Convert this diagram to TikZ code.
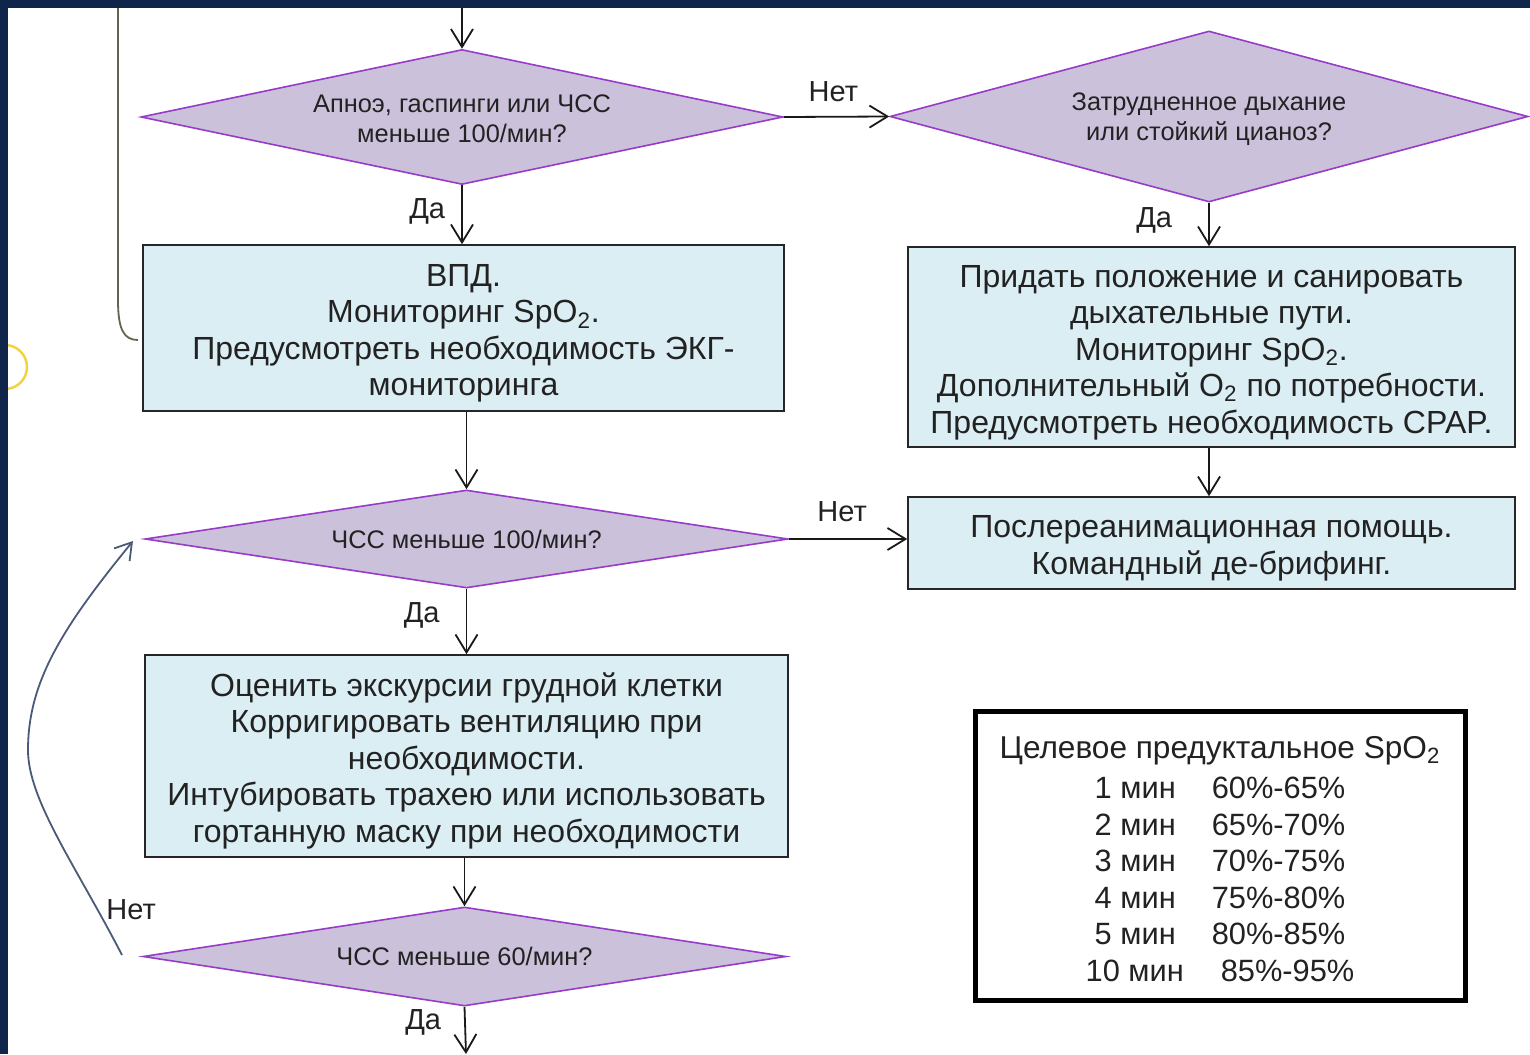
\documentclass[tikz,border=0pt]{standalone}
\usepackage{fontspec}
\setmainfont{Liberation Sans}
\usetikzlibrary{shapes.geometric,arrows.meta}
\definecolor{navy}{RGB}{16,37,74}
\definecolor{boxfill}{RGB}{219,238,244}
\definecolor{diafill}{RGB}{204,193,219}
\definecolor{diaedge}{RGB}{150,60,200}
\definecolor{txt}{RGB}{34,34,34}
\definecolor{loopc}{RGB}{74,90,120}
\definecolor{bracec}{RGB}{100,100,80}
\definecolor{ringc}{RGB}{240,210,60}
\newcommand\boxstrut{\rule{0pt}{16.5pt}}
\begin{document}
\begin{tikzpicture}[x=0.5pt,y=-0.5pt,
  dia/.style={diamond, draw=diaedge, fill=diafill, line width=0.8pt, inner sep=0pt, text=txt, align=center, font=\fontsize{12.7}{15}\selectfont},
  act/.style={rectangle, draw=black!85, fill=boxfill, line width=0.8pt, inner sep=0pt, text=txt, align=center, font=\fontsize{16}{18.25}\selectfont},
  flow/.style={draw=black!90, line width=0.9pt, -{Straight Barb[length=9pt,width=11pt,line width=0.9pt]}},
  lbl/.style={inner sep=0pt, text=txt, font=\fontsize{14.5}{16}\selectfont},
  tbl/.style={rectangle, draw=black, line width=2.5pt, fill=white, inner sep=0pt, text=txt, align=center, font=\fontsize{15.4}{18.25}\selectfont},
]
\useasboundingbox (0,0) rectangle (1530,1054);
\fill[white] (0,0) rectangle (1530,1054);

% partial ring at the left edge
\draw[ringc, line width=1.2pt] (5,367) circle[radius=22];
% bracket line at the upper left
\draw[bracec, line width=0.9pt] (118,0) -- (118,300) .. controls (118,330) and (124,340) .. (138,340);

% nodes
\node[dia, minimum width=321pt, minimum height=67.5pt, aspect=4.76] (d1) at (462,117)
  {\rule{0pt}{10.5pt}Апноэ, гаспинги или ЧСС\\меньше 100/мин?};
\node[dia, minimum width=319pt, minimum height=85.5pt, aspect=3.73] (d2) at (1209,116.5)
  {\rule{0pt}{12pt}Затрудненное дыхание\\или стойкий цианоз?};
\node[act, minimum width=320.5pt, minimum height=83pt] (b1) at (463.5,328)
  {\boxstrut ВПД.\\Мониторинг SpO\textsubscript{2}.\\Предусмотреть необходимость ЭКГ-\\мониторинга};
\node[act, minimum width=303.5pt, minimum height=100pt] (b2) at (1211.5,347)
  {\boxstrut Придать положение и санировать\\дыхательные пути.\\Мониторинг SpO\textsubscript{2}.\\Дополнительный O\textsubscript{2} по потребности.\\Предусмотреть необходимость CPAP.};
\node[act, minimum width=303.5pt, minimum height=46pt] (b3) at (1211.5,543)
  {\boxstrut Послереанимационная помощь.\\Командный де-брифинг.};
\node[dia, minimum width=321.5pt, minimum height=49pt, aspect=6.56] (d3) at (466.5,539)
  {ЧСС меньше 100/мин?};
\node[act, minimum width=321.5pt, minimum height=101pt] (b4) at (466.5,756)
  {\boxstrut Оценить экскурсии грудной клетки\\Корригировать вентиляцию при\\необходимости.\\Интубировать трахею или использовать\\гортанную маску при необходимости};
\node[dia, minimum width=321.5pt, minimum height=49.5pt, aspect=6.5] (d4) at (464.5,956.5)
  {ЧСС меньше 60/мин?};
\node[tbl, minimum width=245pt, minimum height=144.5pt] (t) at (1220,855.5)
  {\fontsize{15.8}{17}\selectfont\rule{0pt}{14.5pt}Целевое предуктальное SpO\textsubscript{2}\\[2pt]
   1 мин\hspace{18pt}60\%-65\%\\
   2 мин\hspace{18pt}65\%-70\%\\
   3 мин\hspace{18pt}70\%-75\%\\
   4 мин\hspace{18pt}75\%-80\%\\
   5 мин\hspace{18pt}80\%-85\%\\
   10 мин\hspace{18.5pt}85\%-95\%};

% free ends
\coordinate (in) at (462,8);
\coordinate (out) at (466,1054);
\coordinate (loopA) at (122,955);
\coordinate (loopM) at (28,750);
\coordinate (loopB) at (133,541);

% connectors
\draw[flow] (in) -- (d1.north);
\draw[flow] (d1.east) -- node[lbl, above=7pt, pos=0.47] (n1) {Нет} (d2.west);
\draw[flow] (d1.south) -- node[lbl, left=8pt, pos=0.45] (y1) {Да} (d1.south |- b1.north);
\draw[flow] (d2.south) -- node[lbl, left=18pt, pos=0.4] (y2) {Да} (d2.south |- b2.north);
\draw[flow] (b2.south -| d2.south) -- (d2.south |- b3.north);
\draw[flow] (d3.north |- b1.south) -- (d3.north);
\draw[flow] (d3.east) -- node[lbl, above=8pt, pos=0.45] (n2) {Нет} (d3.east -| b3.west);
\draw[flow] (d3.south) -- node[lbl, left=13pt, pos=0.41] (y3) {Да} (d3.south |- b4.north);
\draw[flow] (d4.north |- b4.south) -- (d4.north);
\draw[flow] (d4.south) -- node[lbl, left=11.5pt, pos=0.33] (y4) {Да} (out);
\draw[loopc, line width=0.9pt, -{Straight Barb[length=8pt,width=10pt,line width=0.9pt]}]
  (loopA) .. controls (76,866) and (28,800) .. (loopM)
          .. controls (28,682) and (62,628) .. (loopB);
\node[lbl, anchor=west] (n3) at (106,910) {Нет};

% dark frame bands
\fill[navy] (0,0) rectangle (1530,8);
\fill[navy] (0,0) rectangle (8,1054);
\end{tikzpicture}
\end{document}
